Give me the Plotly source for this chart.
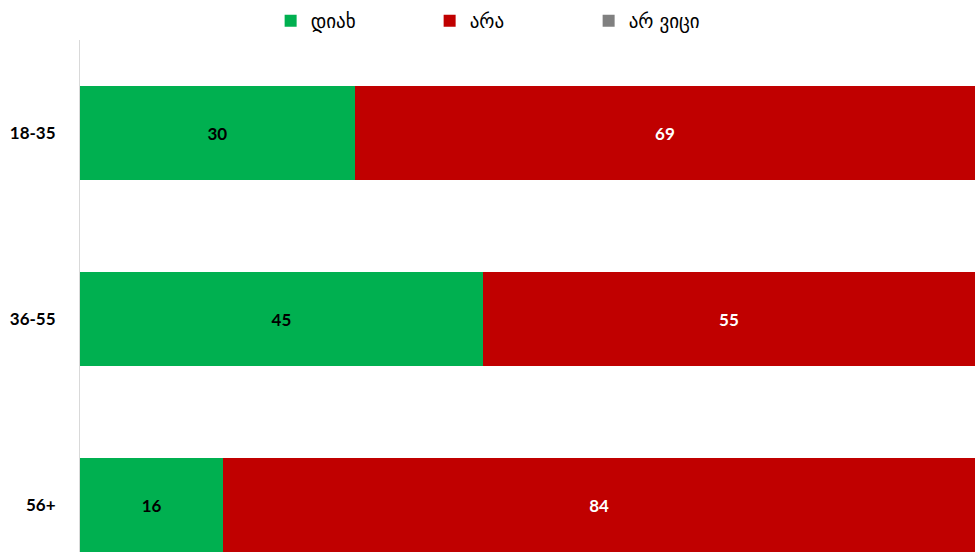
import plotly.graph_objects as go

categories = ["18-35", "36-55", "56+"]
yes_vals = [30.7, 45, 16]
no_vals = [69.3, 55, 84]
dk_vals = [0, 0, 0]
yes_labels = ["30", "45", "16"]
no_labels = ["69", "55", "84"]
series_names = ["დიახ", "არა", "არ ვიცი"]

font_fam = "Lato, 'Open Sans', sans-serif"

fig = go.Figure()
fig.add_trace(go.Bar(
    y=categories, x=yes_vals, name=series_names[0], orientation="h",
    marker=dict(color="#00B050", line=dict(width=0)),
    text=yes_labels, textposition="inside", insidetextanchor="middle",
    textfont=dict(color="#000000", size=17, family=font_fam, weight="bold"),
))
fig.add_trace(go.Bar(
    y=categories, x=no_vals, name=series_names[1], orientation="h",
    marker=dict(color="#C00000", line=dict(width=0)),
    text=no_labels, textposition="inside", insidetextanchor="middle",
    textfont=dict(color="#FFFFFF", size=17, family=font_fam, weight="bold"),
))
fig.add_trace(go.Bar(
    y=categories, x=dk_vals, name=series_names[2], orientation="h",
    marker=dict(color="#808080", line=dict(width=0)),
))

fig.update_layout(
    barmode="stack",
    bargap=0.495,
    width=976, height=552,
    margin=dict(l=80, r=1, t=40, b=0),
    plot_bgcolor="white", paper_bgcolor="white",
    showlegend=True,
    legend=dict(
        orientation="h", x=0.213, xanchor="left", y=1.0, yanchor="bottom",
        font=dict(size=19, family="'DejaVu Sans', sans-serif", color="#000000"),
        entrywidth=114, entrywidthmode="pixels", itemwidth=30,
        traceorder="normal", itemclick=False,
    ),
    xaxis=dict(range=[0, 100], showgrid=False, zeroline=False, showticklabels=False,
               showline=False, fixedrange=True),
    yaxis=dict(type="category", categoryorder="array", categoryarray=categories,
               range=[2.25, -0.5], showgrid=False, zeroline=False,
               showline=True, linecolor="#D9D9D9", linewidth=1,
               ticks="", ticklabelstandoff=20,
               tickfont=dict(size=17, family=font_fam, color="#000000", weight="bold")),
)

fig.write_html("out.html")
